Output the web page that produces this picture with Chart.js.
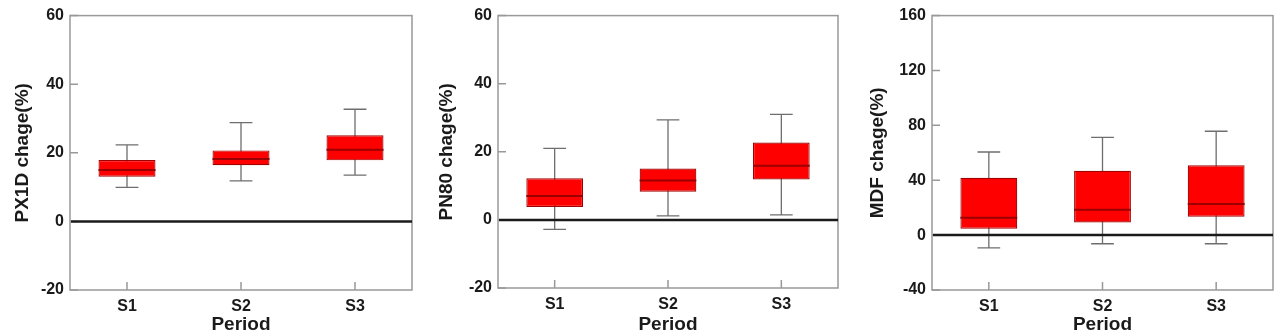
<!DOCTYPE html>
<html>
<head>
<meta charset="utf-8">
<script src="https://cdn.jsdelivr.net/npm/chart.js@4/dist/chart.umd.min.js"></script>
<style>
    html, body { margin: 0; padding: 0; background: #fff; overflow: hidden; width: 1287px; height: 330px; }
    .panel { position: absolute; top: 0; }
</style>
</head>
<body>
<div class="panel" id="p1" style="left:0px"><canvas id="c1" width="430" height="345"></canvas></div>
<div class="panel" id="p2" style="left:430px"><canvas id="c2" width="428" height="345"></canvas></div>
<div class="panel" id="p3" style="left:858px"><canvas id="c3" width="429" height="345"></canvas></div>
<script>
// Categories
const periods = ["S1", "S2", "S3"];

// PX1D change (%)
const px1dMin = [9.9, 11.8, 13.5];
const px1dQ1 = [13.0, 16.4, 17.8];
const px1dMedian = [15.0, 18.2, 20.9];
const px1dQ3 = [17.9, 20.7, 25.1];
const px1dMax = [22.3, 28.8, 32.7];

// PN80 change (%)
const pn80Min = [-2.8, 1.2, 1.5];
const pn80Q1 = [3.8, 8.3, 11.9];
const pn80Median = [7.0, 11.6, 15.9];
const pn80Q3 = [12.2, 15.1, 22.7];
const pn80Max = [21.0, 29.4, 31.0];

// MDF change (%)
const mdfMin = [-9.3, -6.3, -6.3];
const mdfQ1 = [4.6, 9.2, 13.4];
const mdfMedian = [12.6, 18.5, 22.6];
const mdfQ3 = [41.8, 46.9, 50.9];
const mdfMax = [60.6, 71.3, 75.7];

// Tick labels
const yTicksSmall = [-20, 0, 20, 40, 60];
const yTicksLarge = [-40, 0, 40, 80, 120, 160];

const FONT = "'Liberation Sans', Arial, sans-serif";
const FRAME = "#999999";

// Draws frame, inner ticks, whiskers, medians and the zero line
const boxPlotPlugin = {
    id: "boxPlot",
    beforeDatasetsDraw(chart) {
        const ctx = chart.ctx;
        const area = chart.chartArea;
        const x = chart.scales.x;
        const y = chart.scales.y;
        const stats = chart.options.plugins.boxPlot;

        ctx.save();
        // frame
        ctx.strokeStyle = FRAME;
        ctx.lineWidth = 1.5;
        ctx.strokeRect(area.left, area.top, area.right - area.left, area.bottom - area.top);

        // inward ticks
        ctx.beginPath();
        y.ticks.forEach((t, i) => {
            const py = y.getPixelForTick(i);
            ctx.moveTo(area.left, py);
            ctx.lineTo(area.left + 8, py);
        });
        x.ticks.forEach((t, i) => {
            const px = x.getPixelForTick(i);
            ctx.moveTo(px, area.bottom);
            ctx.lineTo(px, area.bottom - 8);
        });
        ctx.stroke();

        // whiskers
        const meta = chart.getDatasetMeta(0);
        ctx.strokeStyle = "#6e6e6e";
        ctx.lineWidth = 1.3;
        meta.data.forEach((bar, i) => {
            const cap = bar.width * 0.2;
            const yMin = y.getPixelForValue(stats.min[i]);
            const yMax = y.getPixelForValue(stats.max[i]);
            ctx.beginPath();
            ctx.moveTo(bar.x, yMin);
            ctx.lineTo(bar.x, yMax);
            ctx.moveTo(bar.x - cap, yMin);
            ctx.lineTo(bar.x + cap, yMin);
            ctx.moveTo(bar.x - cap, yMax);
            ctx.lineTo(bar.x + cap, yMax);
            ctx.stroke();
        });
        ctx.restore();
    },
    afterDatasetsDraw(chart) {
        const ctx = chart.ctx;
        const area = chart.chartArea;
        const y = chart.scales.y;
        const stats = chart.options.plugins.boxPlot;
        const meta = chart.getDatasetMeta(0);

        ctx.save();
        // medians
        ctx.strokeStyle = "#9a0000";
        ctx.lineWidth = 2;
        meta.data.forEach((bar, i) => {
            const py = y.getPixelForValue(stats.median[i]);
            ctx.beginPath();
            ctx.moveTo(bar.x - bar.width / 2, py);
            ctx.lineTo(bar.x + bar.width / 2, py);
            ctx.stroke();
        });

        // zero line
        const y0 = y.getPixelForValue(0);
        ctx.strokeStyle = "#1a1a1a";
        ctx.lineWidth = 2.5;
        ctx.beginPath();
        ctx.moveTo(area.left + 1, y0);
        ctx.lineTo(area.right, y0);
        ctx.stroke();
        ctx.restore();
    }
};

function createBoxChart(canvasId, title, mins, q1s, medians, q3s, maxs, yTicks, layout) {
    const ctx = document.getElementById(canvasId);
    const canvasHeight = ctx.height;

    // Floating bars for the boxes
    const boxes = [];
    for (let i = 0; i < periods.length; i++) {
        boxes.push([q1s[i], q3s[i]]);
    }

    return new Chart(ctx, {
        type: "bar",
        data: {
            labels: periods,
            datasets: [{
                data: boxes,
                backgroundColor: "#ff0000",
                borderColor: "#a00000",
                borderWidth: 1.2,
                borderSkipped: false,
                categoryPercentage: 1,
                barPercentage: 0.5
            }]
        },
        options: {
            responsive: false,
            animation: false,
            layout: {
                padding: { left: 0, right: layout.padRight, top: layout.top, bottom: 0 }
            },
            plugins: {
                legend: { display: false },
                tooltip: { enabled: false },
                boxPlot: { min: mins, median: medians, max: maxs }
            },
            scales: {
                x: {
                    offset: true,
                    grid: { display: false, drawTicks: false },
                    border: { display: false },
                    ticks: {
                        padding: 7,
                        color: "#1a1a1a",
                        font: { family: FONT, size: 16, weight: "bold" }
                    },
                    title: {
                        display: true,
                        text: "Period",
                        color: "#1a1a1a",
                        padding: { top: 0, bottom: 9 },
                        font: { family: FONT, size: 19, weight: "bold" }
                    },
                    afterFit: (scale) => { scale.height = canvasHeight - layout.bottom; }
                },
                y: {
                    min: yTicks[0],
                    max: yTicks[yTicks.length - 1],
                    grid: { display: false, drawTicks: false },
                    border: { display: false },
                    ticks: {
                        stepSize: yTicks[1] - yTicks[0],
                        padding: 6,
                        color: "#1a1a1a",
                        font: { family: FONT, size: 16, weight: "bold" }
                    },
                    title: {
                        display: true,
                        text: title,
                        color: "#1a1a1a",
                        padding: { top: layout.titlePad, bottom: 0 },
                        font: { family: FONT, size: 19, weight: "bold" }
                    },
                    afterFit: (scale) => { scale.width = layout.yWidth; }
                }
            }
        },
        plugins: [boxPlotPlugin]
    });
}

createBoxChart("c1", "PX1D chage(%)", px1dMin, px1dQ1, px1dMedian, px1dQ3, px1dMax, yTicksSmall,
    { yWidth: 70, padRight: 18, top: 14, bottom: 290, titlePad: 11 });
createBoxChart("c2", "PN80 chage(%)", pn80Min, pn80Q1, pn80Median, pn80Q3, pn80Max, yTicksSmall,
    { yWidth: 68, padRight: 20, top: 13, bottom: 288, titlePad: 5 });
createBoxChart("c3", "MDF chage(%)", mdfMin, mdfQ1, mdfMedian, mdfQ3, mdfMax, yTicksLarge,
    { yWidth: 74, padRight: 14, top: 14, bottom: 290, titlePad: 8 });
</script>
</body>
</html>
